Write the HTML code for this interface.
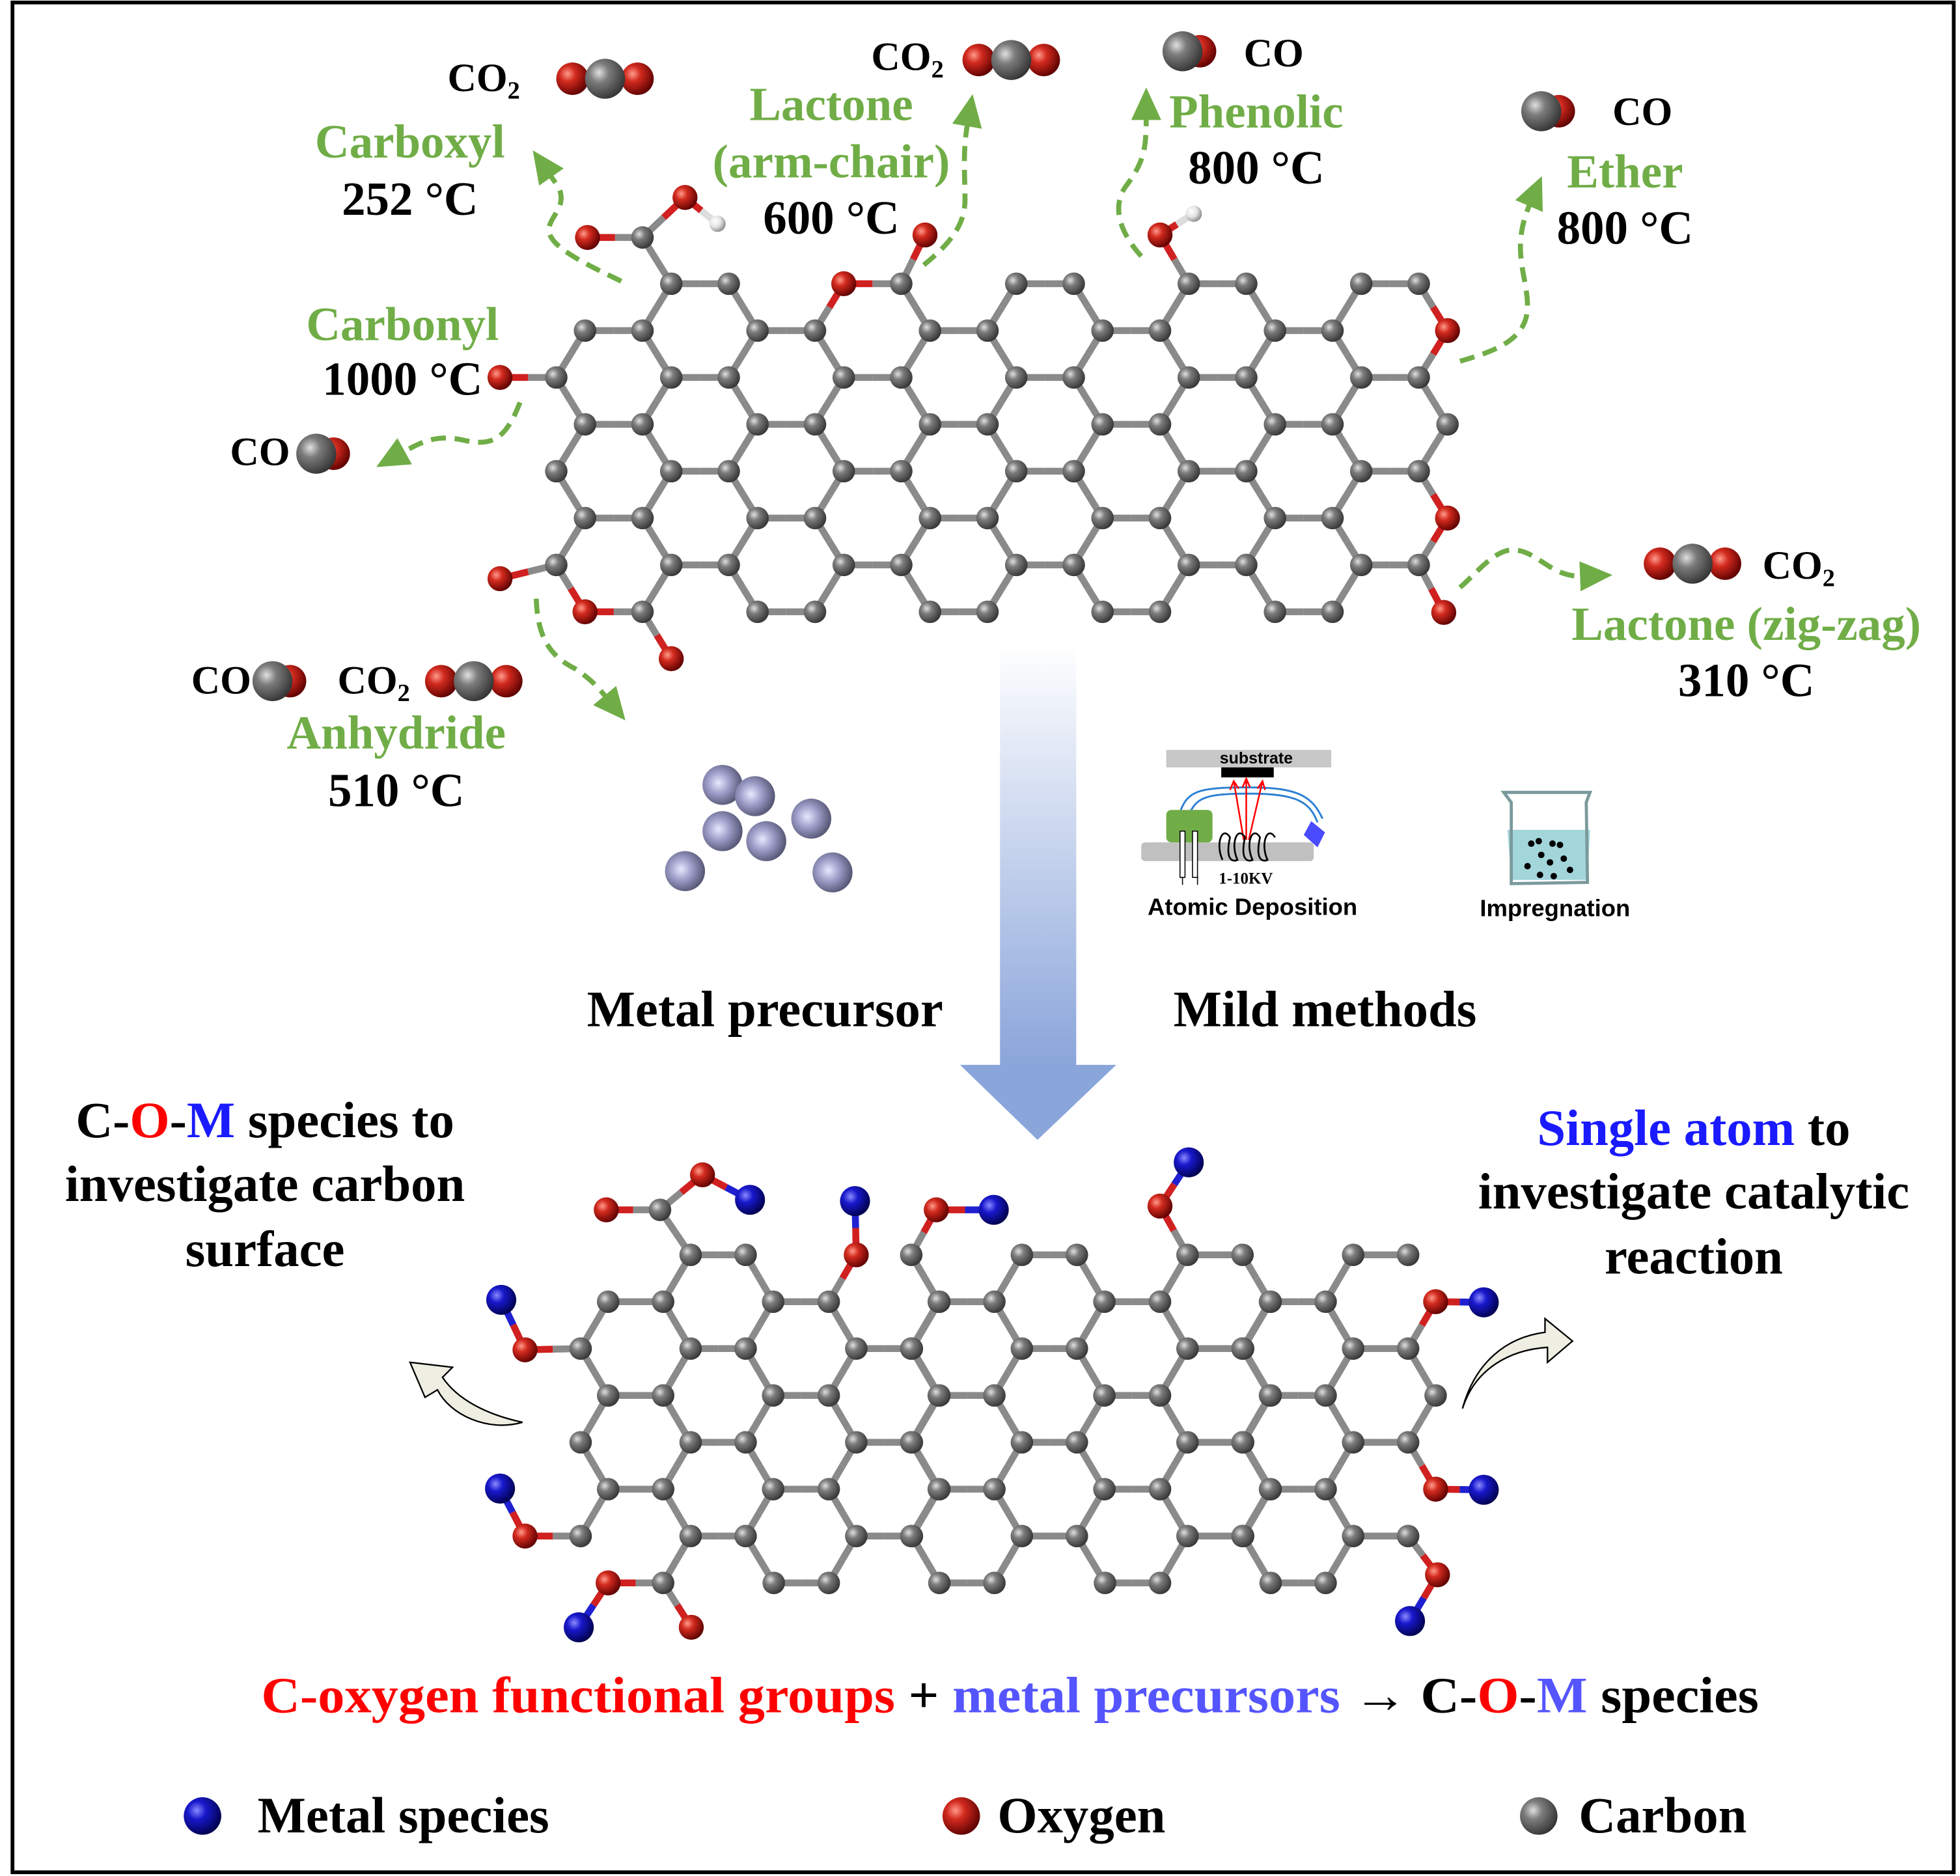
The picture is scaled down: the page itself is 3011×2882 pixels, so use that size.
<!DOCTYPE html>
<html><head><meta charset="utf-8"><style>
html,body{margin:0;padding:0;background:#fff;}
svg{display:block;}
text{font-family:"Liberation Serif",serif;font-weight:bold;}
.g{fill:#70ad47;}
.s{font-family:"Liberation Sans",sans-serif;}
</style></head><body>
<svg id="sv" xmlns="http://www.w3.org/2000/svg" width="3011" height="2882" viewBox="0 0 1568 1501" preserveAspectRatio="none">
<defs>
<radialGradient id="gC" cx="35%" cy="35%" r="70%"><stop offset="0" stop-color="#e0e0e0"/><stop offset="0.35" stop-color="#7c7c7c"/><stop offset="1" stop-color="#333"/></radialGradient>
<radialGradient id="gO" cx="35%" cy="35%" r="70%"><stop offset="0" stop-color="#ff9a8a"/><stop offset="0.35" stop-color="#d22a1e"/><stop offset="1" stop-color="#5a0000"/></radialGradient>
<radialGradient id="gM" cx="35%" cy="35%" r="70%"><stop offset="0" stop-color="#8a8aff"/><stop offset="0.35" stop-color="#1818cc"/><stop offset="1" stop-color="#00004a"/></radialGradient>
<radialGradient id="gH" cx="35%" cy="35%" r="70%"><stop offset="0" stop-color="#fff"/><stop offset="0.5" stop-color="#e4e4e4"/><stop offset="1" stop-color="#888"/></radialGradient>
<radialGradient id="gL" cx="40%" cy="45%" r="70%"><stop offset="0" stop-color="#e8e8ff"/><stop offset="0.4" stop-color="#9c9cc8"/><stop offset="1" stop-color="#3e3e58"/></radialGradient>
<linearGradient id="gA" x1="0" y1="0" x2="0" y2="1"><stop offset="0" stop-color="#ffffff"/><stop offset="1" stop-color="#8aa5da"/></linearGradient>
<marker id="ah" markerUnits="userSpaceOnUse" markerWidth="26" markerHeight="24" refX="2" refY="12" orient="auto"><path d="M0,0 L26,12 L0,24 z" fill="#70ad47"/></marker>
</defs>
<rect x="10" y="2" width="1553" height="1496" fill="#fff" stroke="#000" stroke-width="3"/>
<g id="mol"></g>

<rect x="800" y="515" width="61" height="338" fill="url(#gA)"/>
<polygon points="768,852 893,852 830,912" fill="#8aa5da"/>

<g fill="none" stroke="#70ad47" stroke-width="4" stroke-dasharray="12 7" marker-end="url(#ah)">
<path d="M497,225 C470,212 445,200 440,188 C435,175 455,168 447,150 L440,140"/>
<path d="M739,212 C760,195 772,180 772,160 C772,140 770,122 774,99"/>
<path d="M416,322 C405,350 395,358 370,352 C350,348 340,352 322,362"/>
<path d="M913,205 C895,185 890,165 900,150 C915,130 917,120 917,94"/>
<path d="M1168,289 C1200,280 1222,270 1222,245 C1222,220 1208,200 1224,163"/>
<path d="M429,479 C430,510 440,525 460,535 C475,545 480,552 485,558"/>
<path d="M1168,470 C1180,460 1195,440 1210,440 C1230,440 1240,462 1266,461"/>
</g>

<path d="M418,1138 C390,1146 360,1132 350,1112 L340,1118 L328,1090 L362,1094 L354,1102 C366,1120 390,1132 418,1138 z" fill="#eeeee2" stroke="#000" stroke-width="1.2"/>
<path d="M1170,1127 C1180,1095 1208,1080 1238,1078 L1238,1090 L1258,1073 L1236,1055 L1236,1066 C1205,1070 1180,1090 1170,1127 z" fill="#eeeee2" stroke="#000" stroke-width="1.2"/>

<g fill="url(#gL)">
<circle cx="578" cy="628" r="16"/><circle cx="604" cy="637" r="16"/><circle cx="649" cy="655" r="16"/>
<circle cx="578" cy="665" r="16"/><circle cx="613" cy="673" r="16"/><circle cx="548" cy="697" r="16"/><circle cx="666" cy="698" r="16"/>
</g>

<rect x="933" y="600" width="132" height="14" fill="#c8c8c8"/>
<text x="1005" y="611" font-size="13" text-anchor="middle" class="s">substrate</text>
<rect x="977" y="614" width="42" height="8" fill="#000"/>
<g stroke="#2a7fd4" stroke-width="1.5" fill="none">
<path d="M944,650 C950,632 960,630 1000,630 C1040,630 1050,638 1058,655"/>
<path d="M952,650 C958,638 965,635 1000,635 C1038,635 1048,642 1054,658"/>
</g>
<g stroke="#f00" stroke-width="1.3" fill="none">
<path d="M995,672 L987,625 M984,632 L987,625 L991,631"/>
<path d="M997,672 L997,623 M994,630 L997,623 L1000,630"/>
<path d="M999,672 L1010,625 M1006,631 L1010,625 L1012,632"/>
</g>
<rect x="913" y="674" width="138" height="15" rx="3" fill="#c0c0c0"/>
<rect x="933" y="648" width="37" height="26" rx="4" fill="#70ad47"/>
<polygon points="1049,657 1060,666 1054,678 1043,668" fill="#4a4aff"/>
<g stroke="#000" stroke-width="0.8" fill="#fff"><rect x="944" y="665" width="4" height="37"/><rect x="954" y="665" width="4" height="37"/></g>
<path d="M946,702 L946,708 M958,708 L958,701" stroke="#000" stroke-width="0.8"/>
<g fill="none" stroke="#000" stroke-width="1.4">
<path d="M978,688 C972,675 978,660 984,670 C980,688 986,690 990,688 C984,675 990,660 996,670 C992,688 998,690 1002,688 C996,675 1002,660 1008,670 C1004,688 1010,690 1014,688 C1008,675 1014,660 1020,670"/>
</g>
<text x="975" y="707" font-size="13">1-10KV</text>
<text x="1002" y="732" font-size="19" text-anchor="middle" class="s">Atomic Deposition</text>
<path d="M1206,664 L1209,704 L1270,704 L1272,664 z" fill="#a3d6db"/>
<path d="M1203,634 L1272,634 L1269,642 L1270,706 L1209,707 L1209,642 z" fill="none" stroke="#7a9a9c" stroke-width="2.5"/>
<g fill="#000"><circle cx="1225" cy="675" r="2.6"/><circle cx="1231" cy="673" r="2.6"/><circle cx="1242" cy="675" r="2.6"/><circle cx="1248" cy="676" r="2.6"/><circle cx="1233" cy="684" r="2.6"/><circle cx="1240" cy="690" r="2.6"/><circle cx="1251" cy="687" r="2.6"/><circle cx="1222" cy="693" r="2.6"/><circle cx="1232" cy="700" r="2.6"/><circle cx="1243" cy="701" r="2.6"/><circle cx="1256" cy="696" r="2.6"/></g>
<text x="1244" y="733" font-size="19" text-anchor="middle" class="s">Impregnation</text>

<g font-size="32">
<text x="358" y="73">CO<tspan font-size="20" dy="6">2</tspan></text>
<text x="697" y="56">CO<tspan font-size="20" dy="6">2</tspan></text>
<text x="995" y="53">CO</text>
<text x="1290" y="100">CO</text>
<text x="184" y="372">CO</text>
<text x="153" y="555">CO</text>
<text x="270" y="555">CO<tspan font-size="20" dy="6">2</tspan></text>
<text x="1410" y="463">CO<tspan font-size="20" dy="6">2</tspan></text>
</g>
<g font-size="38" text-anchor="middle">
<text class="g" x="328" y="126">Carboxyl</text>
<text x="328" y="172">252 °C</text>
<text class="g" x="665" y="96">Lactone</text>
<text class="g" x="665" y="142">(arm-chair)</text>
<text x="665" y="187">600 °C</text>
<text class="g" x="1005" y="102">Phenolic</text>
<text x="1005" y="147">800 °C</text>
<text class="g" x="1300" y="150">Ether</text>
<text x="1300" y="195">800 °C</text>
<text class="g" x="322" y="272">Carbonyl</text>
<text x="322" y="316">1000 °C</text>
<text class="g" x="317" y="599">Anhydride</text>
<text x="317" y="645">510 °C</text>
<text class="g" x="1397" y="512">Lactone (zig-zag)</text>
<text x="1397" y="557">310 °C</text>
</g>
<g font-size="41" text-anchor="middle">
<text x="612" y="821">Metal precursor</text>
<text x="1060" y="821">Mild methods</text>
<text x="212" y="910">C-<tspan fill="#f00">O</tspan>-<tspan fill="#1a1aff">M</tspan> species to</text>
<text x="212" y="961">investigate carbon</text>
<text x="212" y="1013">surface</text>
<text x="1355" y="916"><tspan fill="#1a1aff">Single atom</tspan> to</text>
<text x="1355" y="967">investigate catalytic</text>
<text x="1355" y="1019">reaction</text>
<text x="808" y="1370" textLength="1198" lengthAdjust="spacingAndGlyphs"><tspan fill="#f00">C-oxygen functional groups</tspan> + <tspan fill="#5555ff">metal precursors</tspan> → C-<tspan fill="#f00">O</tspan>-<tspan fill="#5555ff">M</tspan> species</text>
</g>
<circle cx="162" cy="1453" r="15" fill="url(#gM)"/>
<circle cx="769" cy="1453" r="15" fill="url(#gO)"/>
<circle cx="1231" cy="1453" r="15" fill="url(#gC)"/>
<g font-size="41">
<text x="206" y="1466">Metal species</text>
<text x="798" y="1466">Oxygen</text>
<text x="1263" y="1466">Carbon</text>
</g>
</svg>
<script>
(function(){
var NS="http://www.w3.org/2000/svg";
var g=document.getElementById("mol");
var bondsG=document.createElementNS(NS,"g"), atomsG=document.createElementNS(NS,"g");
g.appendChild(bondsG);g.appendChild(atomsG);
var col={C:"#8a8a8a",O:"#d02020",M:"#2020d0",H:"#dddddd"};
var grad={C:"url(#gC)",O:"url(#gO)",M:"url(#gM)",H:"url(#gH)"};
var rad={C:9,O:10,M:12,H:6.5};
function line(x1,y1,x2,y2,c,w){var l=document.createElementNS(NS,"line");l.setAttribute("x1",x1);l.setAttribute("y1",y1);l.setAttribute("x2",x2);l.setAttribute("y2",y2);l.setAttribute("stroke",c);l.setAttribute("stroke-width",w);bondsG.appendChild(l);}
function bond(a,b){var mx=(a.x+b.x)/2,my=(a.y+b.y)/2;line(a.x,a.y,mx,my,col[a.t],5.5);line(mx,my,b.x,b.y,col[b.t],5.5);}
function atom(a){var c=document.createElementNS(NS,"circle");c.setAttribute("cx",a.x);c.setAttribute("cy",a.y);c.setAttribute("r",rad[a.t]);c.setAttribute("fill",grad[a.t]);atomsG.appendChild(c);}
function lattice(p){
 var atoms={},bonds={};
 function key(x,L){return Math.round(x)+"_"+L;}
 function get(x,L){var k=key(x,L);if(!atoms[k]){atoms[k]={x:x,y:p.y0+p.h*L,t:"C",k:k};}return atoms[k];}
 function hex(cx,L){var v=[[cx-p.a,L-1],[cx+p.a,L-1],[cx+p.w,L],[cx+p.a,L+1],[cx-p.a,L+1],[cx-p.w,L]];
  for(var i=0;i<6;i++){var A=get(v[i][0],v[i][1]),B=get(v[(i+1)%6][0],v[(i+1)%6][1]);var bk=[A.k,B.k].sort().join("|");bonds[bk]=[A,B];}}
 for(var n=0;n<5;n++)for(var L=1;L<=5;L+=2)hex(p.xA+p.P*n,L);
 for(var n=-1;n<4;n++)for(var L=2;L<=6;L+=2)hex(p.xB+p.P*n,L);
 p.O.forEach(function(k){atoms[k].t="O";});
 (p.rm||[]).forEach(function(r){delete bonds[[r[0],r[1]].sort().join("|")];});
 return {atoms:atoms,bonds:bonds};
}
function draw(lat,extra){
 for(var k in lat.bonds)bond(lat.bonds[k][0],lat.bonds[k][1]);
 var ex={};
 extra.atoms.forEach(function(a){ex[a[0]]={x:a[1],y:a[2],t:a[3]};});
 extra.bonds.forEach(function(b){var A=ex[b[0]]||lat.atoms[b[0]],B=ex[b[1]]||lat.atoms[b[1]];bond(A,B);});
 for(var k in lat.atoms)atom(lat.atoms[k]);
 for(var k in ex)atom(ex[k]);
}
var top=lattice({xA:560,xB:629,P:138,a:23,w:46,y0:227,h:37.5,O:["675_0","1158_1","468_7","1158_5"]});
draw(top,{atoms:[["c1",514,190,"C"],["o1",470,190,"O"],["o2",548,158,"O"],["h1",574,179,"H"],["o3",740,188,"O"],["o4",928,188,"O"],["h2",955,171,"H"],["o5",400,302,"O"],["o6",400,463,"O"],["o7",537,527,"O"],["o8",1155,490,"O"]],
 bonds:[["537_0","c1"],["c1","o1"],["c1","o2"],["o2","h1"],["721_0","o3"],["951_0","o4"],["o4","h2"],["445_2","o5"],["445_6","o6"],["514_7","o7"],["1135_6","o8"]]});
var bot=lattice({xA:574.5,xB:641,P:132.5,a:22,w:44,y0:1004,h:37.5,O:["685_0","1149_1","1149_5","487_7"],
 rm:[["685_0","729_0"],["1127_0","1149_1"],["1149_5","1127_6"],["465_6","487_7"]]});
draw(bot,{atoms:[["c1",528,968,"C"],["o1",485,968,"O"],["o2",562,940,"O"],["m1",600,960,"M"],["m2",684,961,"M"],["o3",749,968,"O"],["m3",795,968,"M"],["o4",928,965,"O"],["m4",951,930,"M"],["m5",1187,1042,"M"],["m6",1187,1192,"M"],["o5",1150,1260,"O"],["m7",1128,1297,"M"],["o6",420,1080,"O"],["m8",401,1040,"M"],["o7",420,1229,"O"],["m9",400,1191,"M"],["m10",463,1302,"M"],["o8",553,1302,"O"]],
 bonds:[["553_0","c1"],["c1","o1"],["c1","o2"],["o2","m1"],["685_0","m2"],["729_0","o3"],["o3","m3"],["950_0","o4"],["o4","m4"],["1149_1","m5"],["1149_5","m6"],["1127_6","o5"],["o5","m7"],["465_2","o6"],["o6","m8"],["465_6","o7"],["o7","m9"],["487_7","m10"],["531_7","o8"]]});
function sp(x,y,r,t){var c=document.createElementNS(NS,"circle");c.setAttribute("cx",x);c.setAttribute("cy",y);c.setAttribute("r",r);c.setAttribute("fill",grad[t]);g.appendChild(c);}
function co2(x,y){sp(x,y,13,"O");sp(x+52,y,13,"O");sp(x+26,y,16,"C");}
function co(x,y){sp(x+28,y,13,"O");sp(x+14,y,16,"C");}
co2(458,63);co2(783,48);co(932,41);co(1219,89);co(239,363);co(204,545);co2(353,545);co2(1328,451);
})();
</script>
</body></html>
